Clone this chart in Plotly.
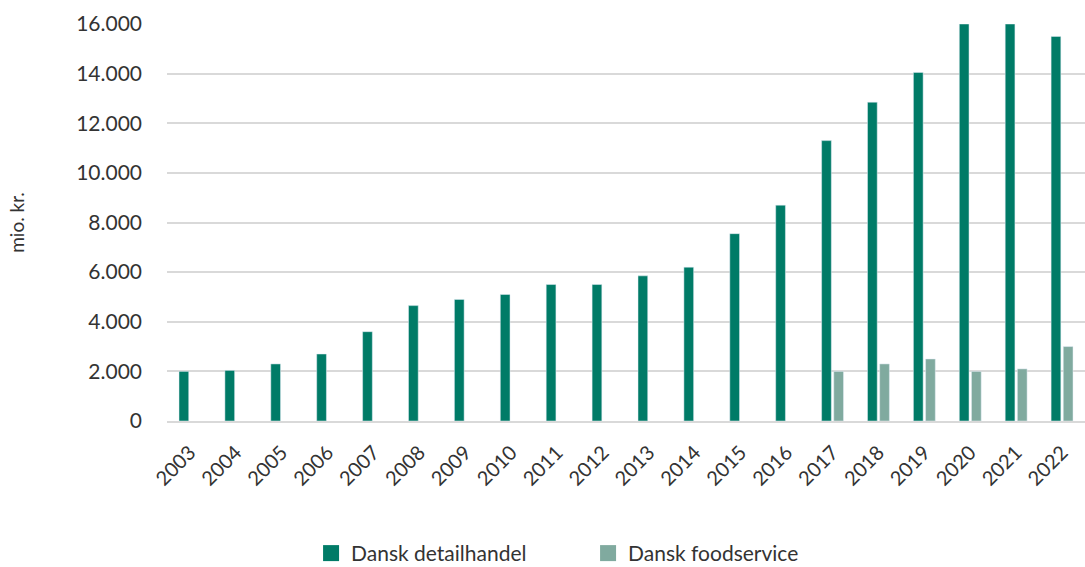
import plotly.graph_objects as go

years = [str(y) for y in range(2003, 2023)]
detail = [2000, 2040, 2300, 2700, 3600, 4650, 4900, 5100, 5500, 5500,
          5850, 6200, 7550, 8700, 11300, 12850, 14050, 16000, 16000, 15500]
food = [None] * 14 + [2000, 2300, 2500, 2000, 2100, 3000]
yticks = [0, 2000, 4000, 6000, 8000, 10000, 12000, 14000, 16000]

dark = "#007b67"
light = "#80aa9f"
font_family = "Lato"
txt = "#333333"

fig = go.Figure()
fig.add_trace(go.Bar(x=years, y=detail, name="Dansk detailhandel",
                     marker_color=dark, showlegend=False))
fig.add_trace(go.Bar(x=years, y=food, name="Dansk foodservice",
                     marker_color=light, showlegend=False))
# legend swatches
fig.add_trace(go.Scatter(x=[None], y=[None], mode="markers", name="Dansk detailhandel",
                         marker=dict(symbol="square", size=22, color=dark)))
fig.add_trace(go.Scatter(x=[None], y=[None], mode="markers", name="Dansk foodservice",
                         marker=dict(symbol="square", size=22, color=light)))

fig.update_layout(
    width=1085, height=567,
    margin=dict(l=167, r=0, t=24, b=146, autoexpand=False),
    paper_bgcolor="white", plot_bgcolor="white",
    separators=",.",
    barmode="group", bargap=0.47, bargroupgap=0.2,
    font=dict(family=font_family, color=txt, size=20),
    legend=dict(orientation="h", xref="container", x=0.542, xanchor="center",
                y=-0.282, yanchor="top",
                font=dict(size=21, color=txt), itemwidth=30, entrywidth=232,
                tracegroupgap=0),
)
fig.update_xaxes(type="category", tickangle=-45, showgrid=False, automargin=False,
                 showline=True, linecolor="#d9d9d9", linewidth=2,
                 tickfont=dict(size=20, color=txt), ticklabelstandoff=10)
fig.update_yaxes(range=[0, 16000], tickvals=yticks, tickformat=",d", automargin=False,
                 showgrid=True, gridcolor="#d9d9d9", gridwidth=2,
                 zeroline=False, showline=False,
                 tickfont=dict(size=21, color=txt), ticklabelstandoff=24,
                 title=dict(text="mio. kr.", font=dict(size=19, color=txt), standoff=46))

fig.write_html("out.html", config={"displayModeBar": False},
               post_script="document.body.style.margin='0';document.body.style.overflow='hidden';")
